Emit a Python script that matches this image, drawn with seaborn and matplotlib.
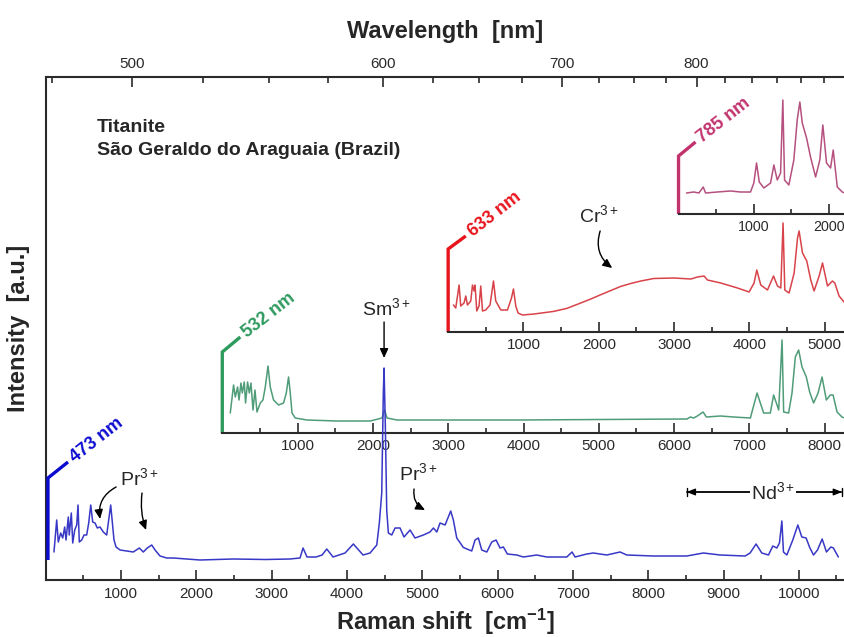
import numpy as np
import matplotlib
matplotlib.use("Agg")
import matplotlib.pyplot as plt
import seaborn as sns
from matplotlib.ticker import FixedLocator

# ---------------- data ----------------
lasers = [473, 532, 633, 785]  # nm

shift_473 = [110,146,167,199,226,252,270,300,313,340,359,385,412,429,446,478,509,544,571,598,624,655,685,721,765,810,837,863,884,907,934,987,1076,1163,1243,1296,1349,1408,1452,1518,1607,1695,2049,2487,2926,3244,3377,3417,3470,3590,3670,3732,3815,3975,4085,4214,4307,4396,4430,4462,4483,4493,4510,4528,4550,4595,4639,4705,4758,4838,4904,5015,5103,5148,5193,5236,5303,5378,5413,5458,5546,5657,5701,5745,5790,5857,5923,5980,6033,6077,6130,6255,6343,6520,6653,6919,6989,7029,7184,7272,7450,7627,7716,8069,8512,8733,8955,9287,9353,9433,9508,9597,9655,9708,9743,9775,9796,9841,9920,9987,10040,10097,10142,10195,10248,10310,10367,10425,10459,10525]
int_473 = [28,60,38,47,42,53,40,63,45,67,37,50,55,75,38,40,45,45,57,75,58,57,52,53,48,45,60,75,58,40,33,30,29,28,32,28,32,35,30,24,22,22,20,21,20.5,21,22,32,23,23,25,31,23,27,36,25,27,35,57,87,187,212,153,70,47,45,52,52,43,50,42,45,48,52,48,57,55,69,60,42,32.5,29,40,42,30,28,38,40,32,33,26,25,23,25,23,23,28,23,26,27,25,28,25,24,24,27,25,24,27,36,27,25,34,32,37,59,28,25,40,55,43,42,33,25,30,41,28,33,32,23]

shift_532 = [106,150,173,203,222,248,266,292,309,336,359,381,408,434,461,505,540,571,607,637,681,748,814,850,880,903,926,969,1125,1523,1965,2121,2155,2187,2320,3028,3957,5020,6171,6215,6259,6308,6384,6428,6614,6790,7012,7101,7188,7277,7321,7388,7433,7454,7520,7565,7609,7653,7698,7755,7799,7852,7911,7964,8021,8074,8110,8163,8229,8260]
int_532 = [20,48,36,46,33,50,40,51,30,51,40,50,23,43,21,30,33,46,67,46,33,28,30,40,56,40,20,15,13,12,12,15,23,15,13,13,13,13.5,14,16,15,17,21,16,17,16,15,40,20,20,38,23,93,21,20,40,76,83,66,56,41,30,40,56,33,38,38,21,16,15]

shift_633 = [70,101,145,167,211,234,256,300,323,344,357,380,410,433,456,499,556,602,632,699,787,841,867,898,928,987,1141,1402,1575,1761,1894,2027,2160,2292,2425,2558,2730,2996,3222,3311,3398,3443,3620,3842,3996,4062,4098,4151,4240,4320,4373,4417,4447,4470,4527,4594,4639,4660,4705,4762,4815,4859,4926,4971,5037,5103,5134,5191,5267]
int_633 = [27,24,47,26,29,36,27,31,47,41,47,21,26,46,21,22,27,51,31,22,22,34,43,26,19,17,18,20.6,23.6,29,33,37.3,41.5,45.6,48.5,51,53.5,54,53,55,56,52,49,44,40,49,62,47,42,56,46,44,109,42,39,59,94,101,79,71,52,41,56,69,46,51,49,36,29]

shift_785 = [106,203,270,328,359,514,691,823,956,1000,1036,1072,1133,1222,1266,1311,1355,1385,1408,1465,1531,1576,1611,1643,1700,1753,1820,1876,1916,1965,2019,2054,2108,2174,2204]
int_785 = [21,22,21,27,21,22,23,22,22,31,51,32,26,31,49,34,41,114,34,29,54,94,112,91,76,57,37,54,89,51,46,64,27,22,21]

main_ticks = [1000,2000,3000,4000,5000,6000,7000,8000,9000,10000]
wl_ticks = [500, 600, 700, 800]

# ---------------- style ----------------
sns.set_style("ticks")
plt.rcParams["font.family"] = ["Liberation Sans", "DejaVu Sans"]
plt.rcParams["mathtext.fontset"] = "custom"
plt.rcParams["mathtext.rm"] = "Liberation Sans"
plt.rcParams["mathtext.it"] = "Liberation Sans:italic"
plt.rcParams["mathtext.bf"] = "Liberation Sans:bold"

line_cols = ["#3838c6", "#4f9c78", "#d8434a", "#b5507f"]
mark_cols = ["#0c0cd0", "#2e9a5e", "#e8141c", "#c2336e"]
spine_col = "#2a2a2a"
XMAX = 10600
TICK_FS = 11

fig = plt.figure(figsize=(8.44, 6.37), dpi=100)
ax = fig.add_axes([45.7 / 844, 57 / 637, (844 - 45.7) / 844, 503 / 637])

def offset(l):
    return 1e7 / lasers[0] - 1e7 / l

# main spectrum (473 nm)
sns.lineplot(x=shift_473, y=int_473, ax=ax, color=line_cols[0], lw=1.1,
             estimator=None, sort=False, zorder=3)
ax.set_xlim(0, XMAX)
ax.set_ylim(0, 503)

# insets for the other excitations
inset_specs = [
    (lasers[1], shift_532, int_532, 147, 81, 239, 15, [1000*i for i in range(1, 9)], TICK_FS),
    (lasers[2], shift_633, int_633, 248, 83, 234, 13, [1000*i for i in range(1, 6)], TICK_FS),
    (lasers[3], shift_785, int_785, 366, 58, 226, 14, [1000, 2000], 10.3),
]
for k, (lam, xs, ys, base, H, dx, dy, ticks, fs) in enumerate(inset_specs, start=1):
    x0 = offset(lam)
    ins = ax.inset_axes([x0, base, XMAX - x0, 120], transform=ax.transData, zorder=1)
    sns.lineplot(x=xs, y=ys, ax=ins, color=line_cols[k], lw=1.1, estimator=None, sort=False)
    ins.set_xlim(0, XMAX - x0)
    ins.set_ylim(0, 120)
    ins.set_facecolor("none")
    for s in ["top", "right", "left"]:
        ins.spines[s].set_visible(False)
    ins.spines["bottom"].set_linewidth(1.5)
    ins.spines["bottom"].set_color(spine_col)
    ins.set_yticks([])
    ins.set_xticks(ticks)
    ins.xaxis.set_minor_locator(FixedLocator([t - 500 for t in ticks] + [ticks[-1] + 500]))
    ins.tick_params(axis="x", which="major", direction="in", length=7.5, width=1.2,
                    labelsize=fs, pad=4, colors=spine_col)
    ins.tick_params(axis="x", which="minor", direction="in", length=3.8, width=1.2, colors=spine_col)
    ins.set_xlabel("")
    ins.set_ylabel("")
    ins.plot([0, 0, dx], [0, H, H + dy], color=mark_cols[k], lw=2.4, clip_on=False,
             solid_joinstyle="miter", solid_capstyle="butt")
    ins.annotate(f"{lam} nm", xy=(dx, H + dy), xytext=(3, 2), textcoords="offset points",
                 rotation=38, rotation_mode="anchor", ha="left", va="center",
                 color=mark_cols[k], fontsize=13, fontweight="bold", annotation_clip=False)

# bracket + label for 473 nm
ax.plot([30, 30, 296], [20, 102, 118], color=mark_cols[0], lw=2.4, clip_on=False,
        solid_joinstyle="miter", solid_capstyle="butt", zorder=3)
ax.annotate(f"{lasers[0]} nm", xy=(296, 118), xytext=(3, 2), textcoords="offset points",
            rotation=38, rotation_mode="anchor", ha="left", va="center",
            color=mark_cols[0], fontsize=13, fontweight="bold")

# axes styling
for s in ["right", "top"]:
    ax.spines[s].set_visible(False)
for s in ["left", "bottom"]:
    ax.spines[s].set_linewidth(1.5)
    ax.spines[s].set_color(spine_col)
ax.set_yticks([])
ax.set_xticks(main_ticks)
ax.xaxis.set_minor_locator(FixedLocator([t - 500 for t in main_ticks] + [10500]))
ax.tick_params(axis="x", which="major", direction="in", length=7.5, width=1.2,
               labelsize=TICK_FS, pad=5, colors=spine_col)
ax.tick_params(axis="x", which="minor", direction="in", length=3.8, width=1.2, colors=spine_col)
ax.set_xlabel("Raman shift  [cm$^{\\mathbf{-1}}$]", fontsize=17, fontweight="bold", labelpad=4)
ax.set_ylabel("Intensity  [a.u.]", fontsize=17, fontweight="bold")
ax.yaxis.set_label_coords(-0.02, 0.5)

def s2w(s):
    with np.errstate(divide="ignore", invalid="ignore"):
        return 1e7 / (1e7 / lasers[0] - np.asarray(s, dtype=float))

def w2s(w):
    with np.errstate(divide="ignore", invalid="ignore"):
        return 1e7 / lasers[0] - 1e7 / np.asarray(w, dtype=float)

sec = ax.secondary_xaxis("top", functions=(s2w, w2s))
sec.set_xticks(wl_ticks)
sec.xaxis.set_minor_locator(FixedLocator(list(range(475, 951, 25))))
sec.tick_params(axis="x", which="major", direction="in", length=7.5, width=1.2,
                labelsize=TICK_FS, pad=4, colors=spine_col)
sec.tick_params(axis="x", which="minor", direction="in", length=4.3, width=1.2, colors=spine_col)
sec.spines["top"].set_linewidth(1.5)
sec.spines["top"].set_color(spine_col)
sec.set_xlabel("Wavelength  [nm]", fontsize=17, fontweight="bold", labelpad=14)

# sample text
ax.text(681, 453, "Titanite", fontsize=14, fontweight="bold", ha="left", va="center")
ax.text(681, 430, "São Geraldo do Araguaia (Brazil)", fontsize=14, fontweight="bold",
        ha="left", va="center")

# annotations
arrow_kw = dict(arrowstyle="-|>,head_length=0.55,head_width=0.25", color="black", lw=1.0,
                shrinkA=0, shrinkB=0)
ax.text(4520, 272, "Sm$^{3+}$", fontsize=14, ha="center", va="center")
ax.annotate("", xy=(4493, 222), xytext=(4493, 258), arrowprops=arrow_kw)

ax.text(1245, 102, "Pr$^{3+}$", fontsize=14, ha="center", va="center")
ax.annotate("", xy=(722, 61), xytext=(935, 93),
            arrowprops=dict(arrow_kw, connectionstyle="arc3,rad=0.35"))
ax.annotate("", xy=(1333, 50), xytext=(1279, 87),
            arrowprops=dict(arrow_kw, connectionstyle="arc3,rad=0.12"))

ax.text(4944, 107, "Pr$^{3+}$", fontsize=14, ha="center", va="center")
ax.annotate("", xy=(5037, 70), xytext=(4891, 91),
            arrowprops=dict(arrow_kw, connectionstyle="arc3,rad=0.35"))

ax.text(7348, 365, "Cr$^{3+}$", fontsize=14, ha="center", va="center")
ax.annotate("", xy=(7522, 312), xytext=(7362, 349),
            arrowprops=dict(arrow_kw, connectionstyle="arc3,rad=0.35"))

ax.annotate("", xy=(8510, 88), xytext=(10575, 88),
            arrowprops=dict(arrowstyle="<|-|>,head_length=0.5,head_width=0.2", color="black",
                            lw=1.0, shrinkA=0, shrinkB=0))
ax.annotate("", xy=(8510, 88), xytext=(10575, 88),
            arrowprops=dict(arrowstyle="|-|,widthA=0.3,widthB=0.3", color="black",
                            lw=1.0, shrinkA=0, shrinkB=0))
ax.text(9658, 88, "Nd$^{3+}$", fontsize=14, ha="center", va="center",
        bbox=dict(facecolor="white", edgecolor="none", pad=0.5), zorder=4)

fig.savefig("out.png", dpi=100)
